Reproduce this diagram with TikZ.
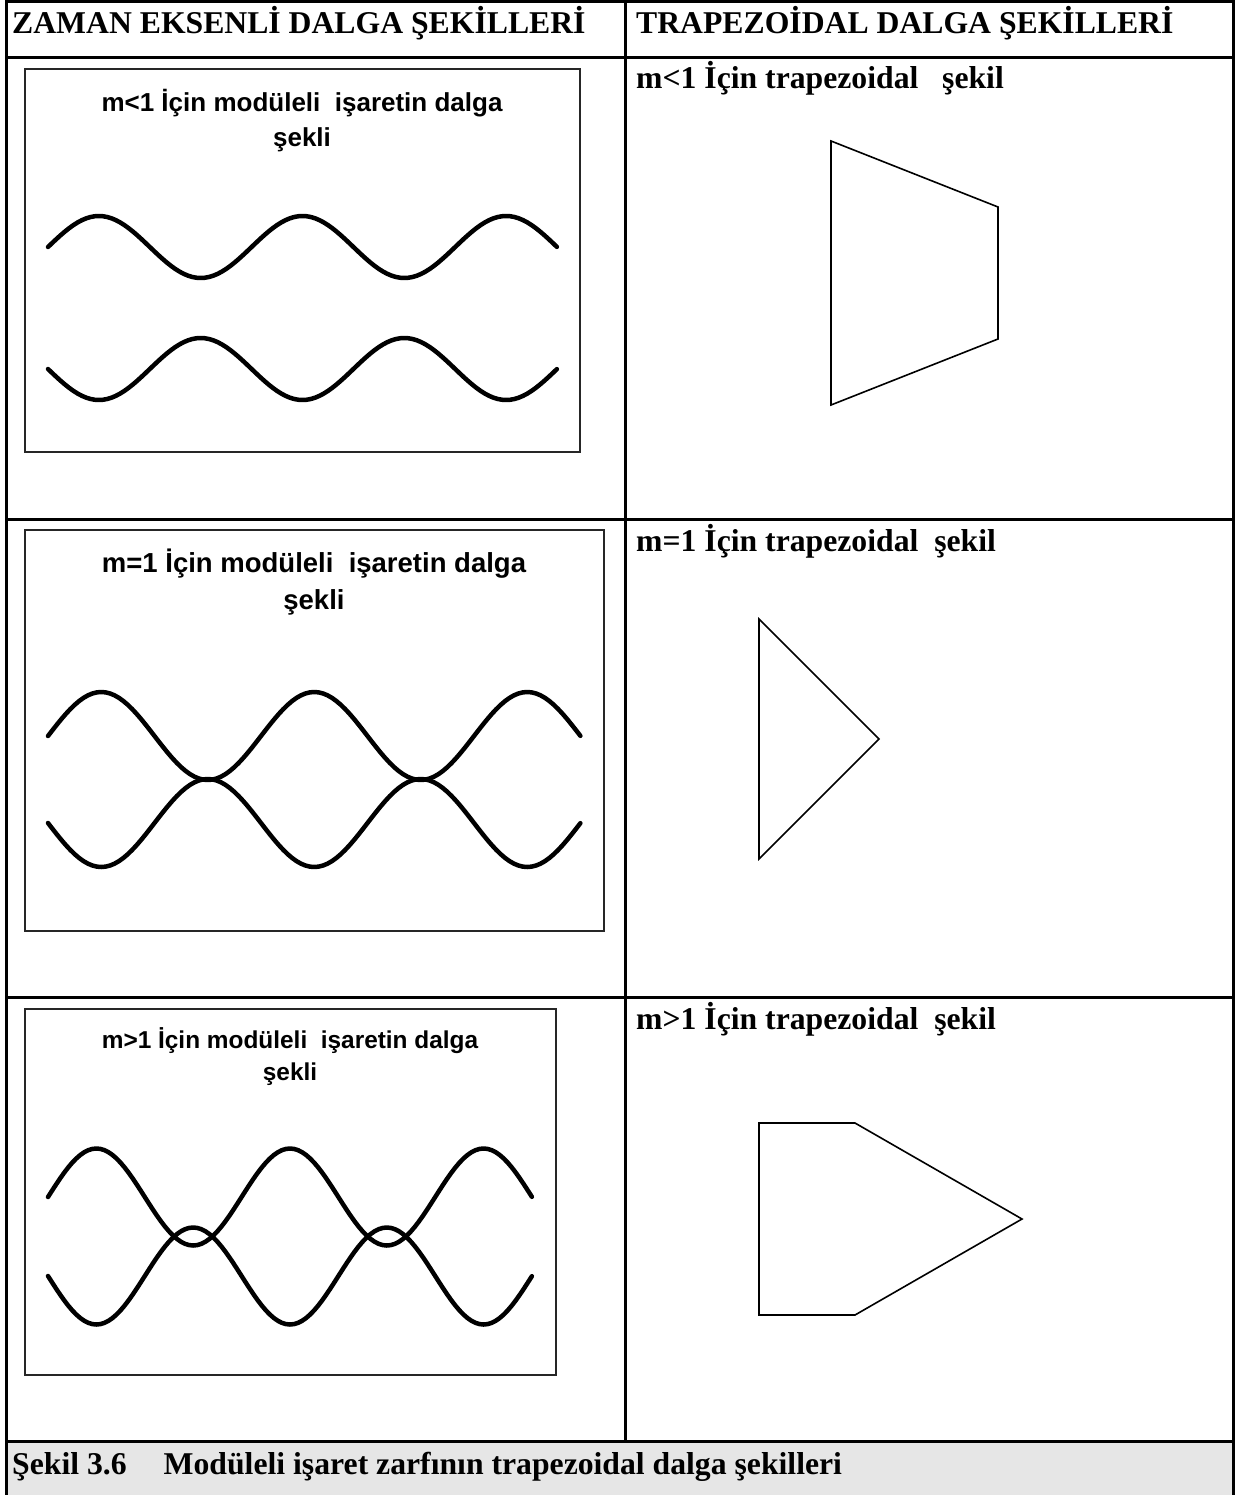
\documentclass[tikz,border=0pt]{standalone}
\usepackage{fontspec}
\setmainfont{Liberation Serif}
\newfontfamily\arialfont{Liberation Sans}
\usetikzlibrary{math}
\definecolor{capgray}{RGB}{230,230,230}

\tikzset{
  tablerule/.style={line width=3pt},
  panel/.style={draw=black!85, line width=1.3pt},
  wave/.style={line width=4.5pt, line cap=round, line join=round},
  trap/.style={line width=1.6pt, line join=miter},
  heading/.style={font=\bfseries\fontsize{31.7}{38}\selectfont, anchor=base west, inner sep=0pt},
  paneltitle/.style={align=center, inner sep=0pt, anchor=center}
}

\begin{document}
\begin{tikzpicture}[x=1pt, y=-1pt]
\useasboundingbox (0,0) rectangle (1237,1495);
\tikzmath{
\xs=48;
\Pa=203.6; \Pb=213; \Pc=193.6;
}

% caption band
\fill[capgray] (6,1441) rectangle (1233,1495);

% table rules
\draw[tablerule] (6,1495) -- (6,1.5) -- (1233,1.5) -- (1233,1495);
\draw[tablerule] (6,58) -- (1233,58);
\draw[tablerule] (6,519) -- (1233,519);
\draw[tablerule] (6,997) -- (1233,997);
\draw[tablerule] (6,1441) -- (1233,1441);
\draw[tablerule] (625,1.5) -- (625,1441);

\node[heading] (hzaman) at (12,34) {ZAMAN EKSENLİ DALGA ŞEKİLLERİ};
\node[heading] (htrap) at (636,34) {TRAPEZOİDAL DALGA ŞEKİLLERİ};

% m<1
\draw[panel] (25,69) rectangle (580,452);
\node[paneltitle, font=\arialfont\bfseries\fontsize{26}{35}\selectfont] (tless) at (302,121)
  {m<1 İçin modüleli~ işaretin dalga\\şekli};
\draw[wave] plot[domain=0:2.5, samples=121] ({\xs+\Pa*\x}, {247-31*sin(360*\x)});
\draw[wave] plot[domain=0:2.5, samples=121] ({\xs+\Pa*\x}, {369+31*sin(360*\x)});
\node[heading] (rless) at (636,89) {m<1 İçin trapezoidal~~ şekil};
\draw[trap] (831,141) -- (998,207) -- (998,339) -- (831,405) -- cycle;

% m=1
\draw[panel] (25,530) rectangle (604,931);
\node[paneltitle, font=\arialfont\bfseries\fontsize{27.5}{37}\selectfont] (tequal) at (314,582)
  {m=1 İçin modüleli~ işaretin dalga\\şekli};
\draw[wave] plot[domain=0:2.5, samples=121] ({\xs+\Pb*\x}, {736-44*sin(360*\x)});
\draw[wave] plot[domain=0:2.5, samples=121] ({\xs+\Pb*\x}, {823+44*sin(360*\x)});
\node[heading] (requal) at (636,551) {m=1 İçin trapezoidal~ şekil};
\draw[trap] (759,619) -- (879,739) -- (759,859) -- cycle;

% m>1
\draw[panel] (25,1009) rectangle (556,1375);
\node[paneltitle, font=\arialfont\bfseries\fontsize{24.4}{32}\selectfont] (tmore) at (290,1057)
  {m>1 İçin modüleli~ işaretin dalga\\şekli};
\draw[wave] plot[domain=0:2.5, samples=121] ({\xs+\Pc*\x}, {1197-48.5*sin(360*\x)});
\draw[wave] plot[domain=0:2.5, samples=121] ({\xs+\Pc*\x}, {1276+48.5*sin(360*\x)});
\node[heading] (rmore) at (636,1029) {m>1 İçin trapezoidal~ şekil};
\draw[trap] (759,1123) -- (855,1123) -- (1022,1219) -- (855,1315) -- (759,1315) -- cycle;

\node[heading] (caption) at (12,1474)
  {Şekil 3.6\hspace{37pt}Modüleli işaret zarfının trapezoidal dalga şekilleri};
\end{tikzpicture}
\end{document}
